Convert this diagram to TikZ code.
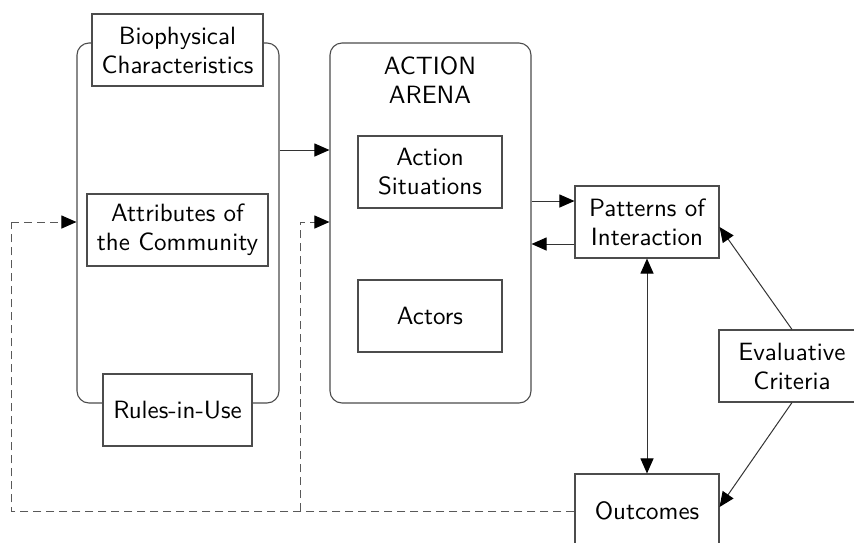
\documentclass[tikz,border=0pt]{standalone}
\usepackage{fontspec}
\setsansfont{lmsans10-regular.otf}
\usetikzlibrary{arrows.meta}
\begin{document}
\begin{tikzpicture}[x=1pt,y=-1pt,
  every node/.style={font=\sffamily\fontsize{25}{29}\selectfont, align=center, inner sep=0pt},
  box/.style={draw=black!70, line width=1.1pt, fill=white},
  rbox/.style={draw=black!70, line width=1.1pt, rounded corners=12pt},
  tip/.style={-{Triangle[length=15pt,width=13pt,black]}},
  arr/.style={draw=black!80, line width=1pt, tip},
  darr/.style={draw=black!80, line width=1pt, {Triangle[length=15pt,width=13pt,black]}-{Triangle[length=15pt,width=13pt,black]}},
  dashline/.style={draw=black!65, line width=1pt, dash pattern=on 8pt off 5pt}
]
\useasboundingbox (0,0) rectangle (854,542);
% rounded containers
\node[rbox, minimum width=202pt, minimum height=360pt] (leftbox) at (178,223) {};
\node[rbox, minimum width=201pt, minimum height=360pt] (arena) at (430.5,223) {};
% inner boxes
\node[box, minimum width=171pt, minimum height=72pt] (bio) at (177.5,50) {Biophysical\\Characteristics};
\node[box, minimum width=181pt, minimum height=72pt] (attr) at (177.5,230) {Attributes of\\the Community};
\node[box, minimum width=149pt, minimum height=72pt] (rules) at (177.5,410) {Rules-in-Use};
\node (arenatext) at (430,80) {ACTION\\ARENA};
\node[box, minimum width=144pt, minimum height=72pt] (sit) at (430,172) {Action\\Situations};
\node[box, minimum width=144pt, minimum height=72pt] (actors) at (430,316) {Actors};
\node[box, minimum width=144pt, minimum height=72pt] (pat) at (647,222) {Patterns of\\Interaction};
\node[box, minimum width=146pt, minimum height=72pt] (eval) at (792,366) {Evaluative\\Criteria};
\node[box, minimum width=144pt, minimum height=74pt] (out) at (647,511) {Outcomes};
% solid arrows
\draw[arr] (leftbox.east |- 0,150) -- (arena.west |- 0,150);
\draw[arr] (arena.east |- 0,201) -- (pat.west |- 0,201);
\draw[arr] (pat.west |- 0,244) -- (arena.east |- 0,244);
\draw[darr] (pat.south) -- (out.north);
\draw[arr] (eval.north) -- ([yshift=-5pt]pat.east);
\draw[arr] (eval.south) -- ([yshift=4pt]out.east);
% dashed feedback
\coordinate (j) at (300,511);
\coordinate (ll) at (11,511);
\coordinate (lu) at (11,222);
\coordinate (ju) at (300,222);
\draw[dashline] (out.west) -- (j) -- (ll) -- (lu);
\draw[dashline, tip] (lu) -- (leftbox.west |- lu);
\draw[dashline, tip] (j) -- (ju) -- (arena.west |- ju);
\end{tikzpicture}
\end{document}
